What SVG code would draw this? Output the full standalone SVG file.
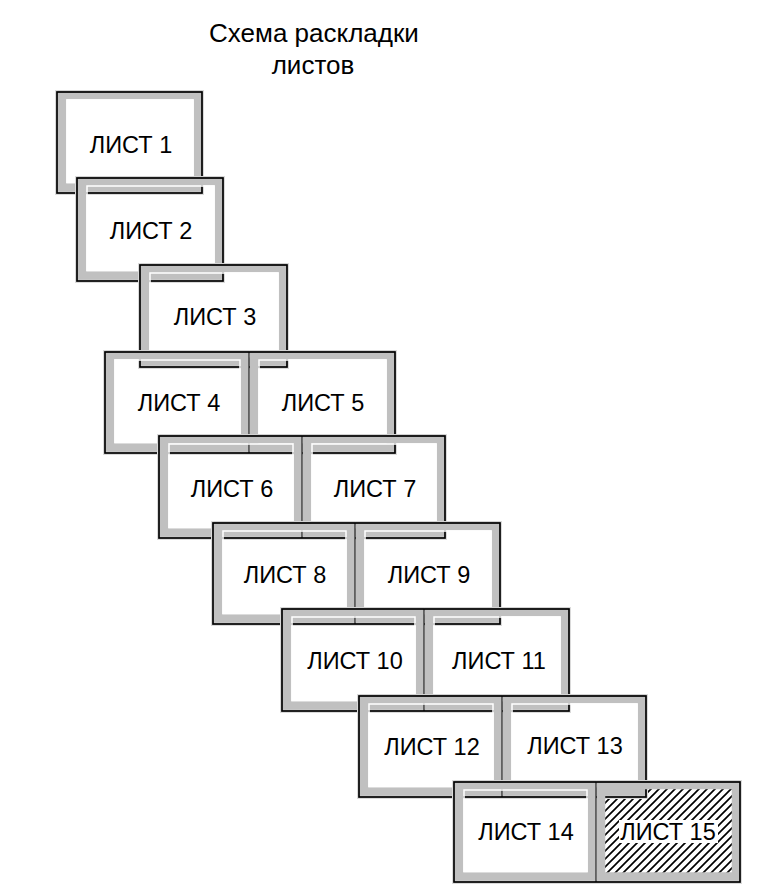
<svg xmlns="http://www.w3.org/2000/svg" width="764" height="891" viewBox="0 0 764 891">
<style>
.halo{fill:none;stroke:#dadada;stroke-width:4}
.band{fill:none;stroke:#c0c0c0;stroke-width:8.5}
.edge{fill:none;stroke:#fff;stroke-width:1.5}
.outline{fill:none;stroke:#000;stroke-width:1.7}
.div{stroke:#000;stroke-width:1}
.lbl{font-family:"Liberation Sans",Arial,sans-serif;font-size:23.5px;text-anchor:middle;fill:#000}
.title{font-family:"Liberation Sans",Arial,sans-serif;font-size:26px;text-anchor:middle;fill:#000}
</style>
<defs>
<pattern id="hatch" patternUnits="userSpaceOnUse" width="8" height="8">
<path d="M-2,2 L2,-2 M0,8 L8,0 M6,10 L10,6" stroke="#000" stroke-width="1.7"/>
</pattern>
</defs>
<rect width="764" height="891" fill="#fff"/>
<g id="title">
<text class="title" x="314" y="42">Схема раскладки</text>
<text class="title" x="313" y="74">листов</text>
</g>
<g id="sheet15-fill">
<rect x="603" y="786" width="133" height="92" fill="url(#hatch)"/>
</g>
<g id="sheet1">
<rect class="halo" x="57" y="92" width="145" height="101"/>
<rect class="band" x="62" y="95" width="136" height="92.5"/>
<rect class="edge" x="67" y="100" width="126" height="82.5"/>
<rect class="outline" x="57" y="92" width="145" height="101"/>
<text class="lbl" x="131" y="153">ЛИСТ 1</text>
</g>
<g id="sheet2">
<rect class="halo" x="77" y="178" width="146" height="103"/>
<rect class="band" x="82" y="181" width="137" height="94.5"/>
<rect class="edge" x="87" y="186" width="127" height="84.5"/>
<rect class="outline" x="77" y="178" width="146" height="103"/>
<text class="lbl" x="151" y="239">ЛИСТ 2</text>
</g>
<g id="sheet3">
<rect class="halo" x="140" y="265" width="147" height="102"/>
<rect class="band" x="145" y="268" width="138" height="93.5"/>
<rect class="edge" x="150" y="273" width="128" height="83.5"/>
<rect class="outline" x="140" y="265" width="147" height="102"/>
<text class="lbl" x="215" y="325">ЛИСТ 3</text>
</g>
<g id="sheets4-5">
<rect class="halo" x="105" y="352" width="290" height="101"/>
<rect class="band" x="110" y="355" width="135" height="92.5"/>
<rect class="band" x="254" y="355" width="137" height="92.5"/>
<rect class="edge" x="115" y="360" width="125" height="82.5"/>
<rect class="edge" x="259" y="360" width="127" height="82.5"/>
<rect class="outline" x="105" y="352" width="290" height="101"/>
<line class="div" x1="249" y1="352" x2="249" y2="453"/>
<text class="lbl" x="179" y="411">ЛИСТ 4</text>
<text class="lbl" x="323" y="411">ЛИСТ 5</text>
</g>
<g id="sheets6-7">
<rect class="halo" x="159" y="436" width="286" height="102"/>
<rect class="band" x="164" y="439" width="134" height="93.5"/>
<rect class="band" x="307" y="439" width="134" height="93.5"/>
<rect class="edge" x="169" y="444" width="124" height="83.5"/>
<rect class="edge" x="312" y="444" width="124" height="83.5"/>
<rect class="outline" x="159" y="436" width="286" height="102"/>
<line class="div" x1="302" y1="436" x2="302" y2="538"/>
<text class="lbl" x="232" y="497">ЛИСТ 6</text>
<text class="lbl" x="375" y="497">ЛИСТ 7</text>
</g>
<g id="sheets8-9">
<rect class="halo" x="213" y="523" width="287" height="101"/>
<rect class="band" x="218" y="526" width="133" height="92.5"/>
<rect class="band" x="360" y="526" width="136" height="92.5"/>
<rect class="edge" x="223" y="531" width="123" height="82.5"/>
<rect class="edge" x="365" y="531" width="126" height="82.5"/>
<rect class="outline" x="213" y="523" width="287" height="101"/>
<line class="div" x1="355" y1="523" x2="355" y2="624"/>
<text class="lbl" x="285" y="583">ЛИСТ 8</text>
<text class="lbl" x="429" y="583">ЛИСТ 9</text>
</g>
<g id="sheets10-11">
<rect class="halo" x="282" y="609" width="287" height="102"/>
<rect class="band" x="287" y="612" width="133" height="93.5"/>
<rect class="band" x="429" y="612" width="136" height="93.5"/>
<rect class="edge" x="292" y="617" width="123" height="83.5"/>
<rect class="edge" x="434" y="617" width="126" height="83.5"/>
<rect class="outline" x="282" y="609" width="287" height="102"/>
<line class="div" x1="424" y1="609" x2="424" y2="711"/>
<text class="lbl" x="355" y="669">ЛИСТ 10</text>
<text class="lbl" x="499" y="669">ЛИСТ 11</text>
</g>
<g id="sheets12-13">
<rect class="halo" x="359" y="696" width="287" height="101"/>
<rect class="band" x="364" y="699" width="134" height="92.5"/>
<rect class="band" x="507" y="699" width="135" height="92.5"/>
<rect class="edge" x="369" y="704" width="124" height="82.5"/>
<rect class="edge" x="512" y="704" width="125" height="82.5"/>
<rect class="outline" x="359" y="696" width="287" height="101"/>
<line class="div" x1="502" y1="696" x2="502" y2="797"/>
<text class="lbl" x="432" y="755">ЛИСТ 12</text>
<text class="lbl" x="575" y="754">ЛИСТ 13</text>
</g>
<g id="sheets14-15">
<rect class="halo" x="454" y="782" width="286" height="100"/>
<rect class="band" x="459" y="785" width="133" height="91.5"/>
<rect class="band" x="601" y="785" width="135" height="91.5"/>
<rect class="edge" x="464" y="790" width="123" height="81.5"/>
<rect class="outline" x="454" y="782" width="286" height="100"/>
<line class="div" x1="596" y1="782" x2="596" y2="882"/>
<text class="lbl" x="526" y="840">ЛИСТ 14</text>
<rect x="619" y="820" width="99" height="23" fill="#fff"/>
<text class="lbl" x="668" y="840">ЛИСТ 15</text>
</g>
</svg>
